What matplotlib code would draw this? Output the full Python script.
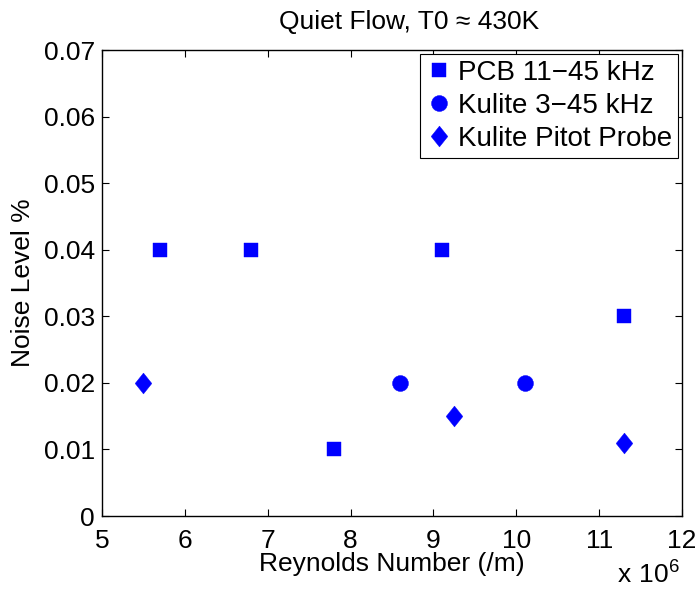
import matplotlib
matplotlib.use("Agg")
import matplotlib.pyplot as plt

plt.rcParams['font.family'] = ['Liberation Sans', 'DejaVu Sans']
plt.rcParams['font.size'] = 19

# Reynolds number in units of 1e6 /m, noise level in %
pcb_re = [5.7, 6.8, 7.8, 9.1, 11.3]
pcb_noise = [0.04, 0.04, 0.01, 0.04, 0.03]

kulite_re = [8.6, 10.1]
kulite_noise = [0.02, 0.02]

pitot_re = [5.5, 9.25, 11.3]
pitot_noise = [0.02, 0.015, 0.011]

series_labels = ['PCB 11\u221245 kHz', 'Kulite 3\u221245 kHz', 'Kulite Pitot Probe']
x_ticks = [5, 6, 7, 8, 9, 10, 11, 12]
y_ticks = [0, 0.01, 0.02, 0.03, 0.04, 0.05, 0.06, 0.07]

blue = (0, 0, 1)
# matlab style diamond, taller than wide
diamond = [(0, 1), (0.8, 0), (0, -1), (-0.8, 0), (0, 1)]

fig = plt.figure(figsize=(6.99, 5.90), dpi=100)
ax = fig.add_axes([102/699, 74/590, 580/699, 466/590])

ax.plot(pcb_re, pcb_noise, linestyle='none', marker='s', markersize=9.4,
        color=blue, markeredgewidth=0.3, label=series_labels[0])
ax.plot(kulite_re, kulite_noise, linestyle='none', marker='o', markersize=11.5,
        color=blue, markeredgewidth=0.3, label=series_labels[1])
ax.plot(pitot_re, pitot_noise, linestyle='none', marker=diamond, markersize=15,
        color=blue, markeredgewidth=0.3, label=series_labels[2])

ax.set_xlim(5, 12)
ax.set_ylim(0, 0.07)
ax.set_xticks(x_ticks)
ax.set_yticks(y_ticks)
ax.set_xticklabels([str(t) for t in x_ticks])
ax.set_yticklabels(['0' if t == 0 else '%.2f' % t for t in y_ticks])

ax.tick_params(direction='in', length=5, width=0.8, top=True, right=True,
               labelsize=19)
ax.tick_params(axis='x', pad=9.5)
ax.tick_params(axis='y', pad=5)
for s in ax.spines.values():
    s.set_linewidth(1.0)

ax.set_xlabel('Reynolds Number (/m)', fontsize=19, labelpad=-1)
ax.set_ylabel('Noise Level %', fontsize=19, labelpad=6)
ax.set_title('Quiet Flow, T0 \u2248 430K', fontsize=19, pad=15, x=0.529)

fig.text(680/699, 1 - 584/590, r'$\mathregular{x\ 10^6}$', fontsize=19,
         ha='right', va='baseline')

leg = ax.legend(loc='upper right', fontsize=20, borderaxespad=0.15,
                handlelength=0.96, handletextpad=0.2, borderpad=0.2,
                labelspacing=0.26, fancybox=False, framealpha=1)
leg.get_frame().set_edgecolor('black')
leg.get_frame().set_linewidth(0.8)

fig.savefig('out.png', dpi=100)
